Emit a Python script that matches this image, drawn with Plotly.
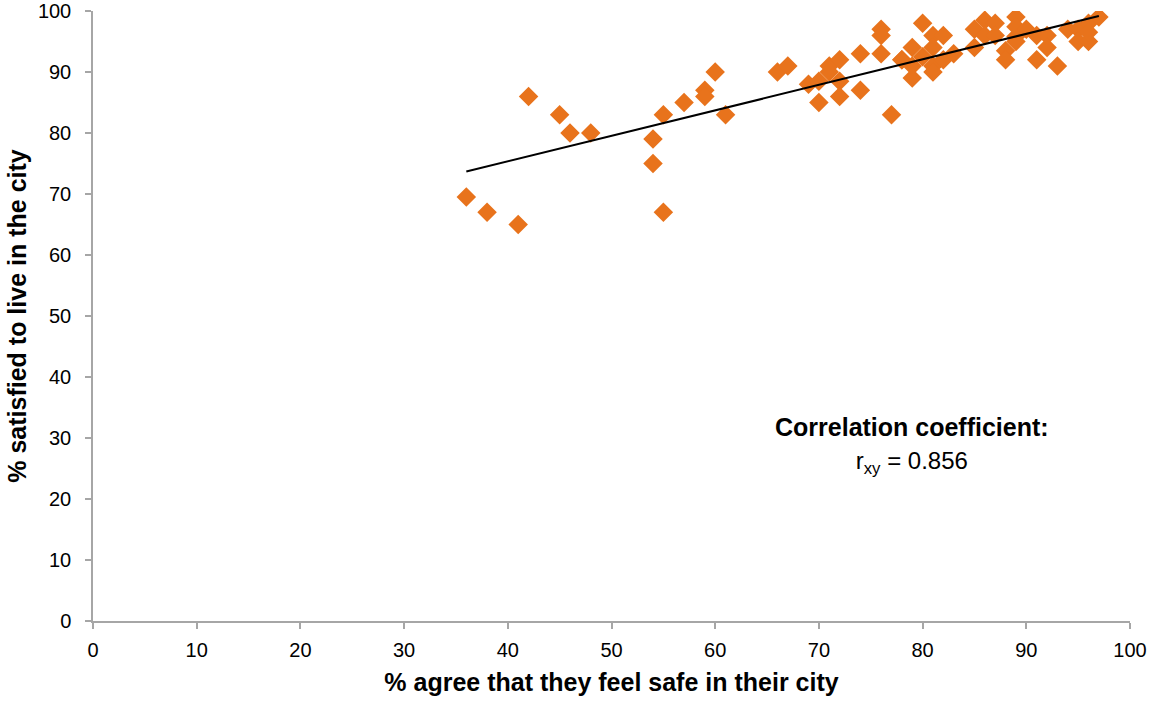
import numpy as np
import plotly.graph_objects as go

# % agree that they feel safe in their city (x) vs % satisfied to live in the city (y)
safe_pct = [
    36, 38, 41, 42, 45, 46, 48, 54, 54, 55, 55, 57, 59, 59, 60, 61,
    66, 67, 69, 70, 70, 71, 71, 72, 72, 72, 74, 74, 76, 76, 76, 77,
    78, 78, 79, 79, 79, 80, 80, 81, 81, 81, 81, 82, 82, 83, 85, 85,
    86, 86, 87, 87, 88, 88, 89, 89, 89, 89, 90, 91, 91, 92, 92, 93,
    94, 95, 95, 96, 96, 96, 97,
]
satisfied_pct = [
    69.5, 67, 65, 86, 83, 80, 80, 79, 75, 83, 67, 85, 87, 86, 90, 83,
    90, 91, 88, 88.5, 85, 91, 90, 92, 88.5, 86, 93, 87, 97, 96, 93, 83,
    92, 92, 94, 89, 91, 98, 92.5, 96, 94, 91, 90, 96, 92, 93, 97, 94,
    98.5, 96, 98, 96, 93.5, 92, 99, 95.8, 95, 97.4, 97, 96, 92, 96, 94, 91,
    97, 97, 95, 98, 95, 96.5, 99,
]
x_ticks = list(range(0, 101, 10))
y_ticks = list(range(0, 101, 10))
corr_label = ("<b>Correlation coefficient:</b><br>"
              "<span style='font-size:24px'>r<sub>xy</sub> = 0.856</span>")

# linear trendline fitted on the data, drawn over the data range
slope, intercept = np.polyfit(safe_pct, satisfied_pct, 1)
trend_x = [min(safe_pct), max(safe_pct)]
trend_y = [slope * v + intercept for v in trend_x]

fig = go.Figure()
fig.add_scatter(
    x=safe_pct, y=satisfied_pct, mode="markers",
    marker=dict(symbol="diamond", size=15, color="#E8731C", line=dict(width=0)),
    showlegend=False,
)
fig.add_scatter(
    x=trend_x, y=trend_y, mode="lines",
    line=dict(color="black", width=2), showlegend=False,
)

fig.add_annotation(
    x=79, y=28.8, xref="x", yref="y", text=corr_label, showarrow=False,
    font=dict(size=25, color="black"), align="center",
)

axis_common = dict(
    range=[0, 100], showgrid=False, zeroline=False, automargin=False,
    showline=True, linecolor="#A6A6A6", linewidth=1.5,
    ticks="outside", tickcolor="#A6A6A6", ticklen=6, tickwidth=1.5,
    tickfont=dict(size=20, color="black"),
)
fig.update_xaxes(
    tickvals=x_ticks, ticklabelstandoff=4, **axis_common,
    title=dict(text="<b>% agree that they feel safe in their city</b>",
               font=dict(size=25, color="black"), standoff=14),
)
fig.update_yaxes(
    tickvals=y_ticks, ticklabelstandoff=10, **axis_common,
    title=dict(text="<b>% satisfied to live in the city</b>",
               font=dict(size=25, color="black"), standoff=4),
)
fig.update_layout(
    width=1151, height=701,
    margin=dict(l=93, r=21, t=11, b=80),
    plot_bgcolor="white", paper_bgcolor="white",
    font=dict(family="Liberation Sans, Arial, sans-serif"),
)

# drop the page's default body margin so the figure sits at the window origin
fig.write_html(
    "out.html",
    config={"displayModeBar": False},
    post_script="document.body.style.margin = '0';",
)
